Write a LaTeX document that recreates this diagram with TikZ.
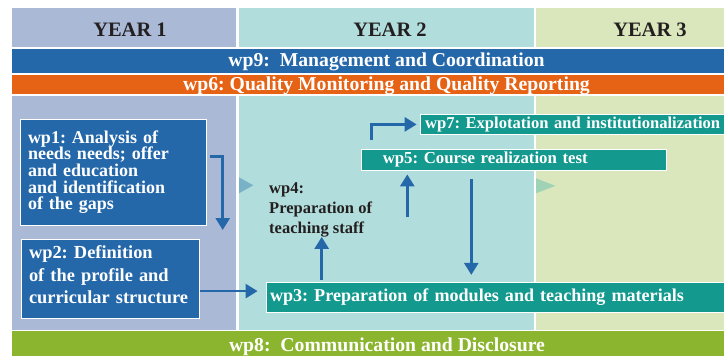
\documentclass[tikz,border=0pt]{standalone}
\usepackage{fontspec}
\setmainfont{Liberation Serif}
\usetikzlibrary{arrows.meta, calc}
\frenchspacing

\definecolor{jahreins}{HTML}{AAB9D6}
\definecolor{jahrzwei}{HTML}{B1DEDC}
\definecolor{jahrdrei}{HTML}{DAE6BC}
\definecolor{blau}{HTML}{2468AA}
\definecolor{orange}{HTML}{E66315}
\definecolor{gruen}{HTML}{8CB52F}
\definecolor{tuerkis}{HTML}{13998E}
\definecolor{kopf}{HTML}{231F20}
\definecolor{dreieckeins}{HTML}{79B1C7}
\definecolor{dreieckzwei}{HTML}{A0D2B6}

\begin{document}
\begin{tikzpicture}[x=1pt,y=-1pt,
	pfeil/.style={draw=blau, line width=2.7pt, -{Triangle[width=14pt,length=12pt]}},
	wpbox/.style={draw=white, line width=0.8pt, text=white, align=left},
	balken/.style={anchor=base, inner sep=0pt, text=white, font=\bfseries\fontsize{19.7}{20}\selectfont},
	jahr/.style={anchor=base, inner sep=0pt, text=kopf, font=\bfseries\fontsize{20.5}{21}\selectfont}]
		\useasboundingbox (0,0) rectangle (724,356);
		
		% Jahre
		\fill[jahreins] (12,8) rectangle (236,329.5);
		\fill[jahrzwei] (238.5,8) rectangle (533.5,329.5);
		\fill[jahrdrei] (535.5,8) rectangle (724,329.5);
		\node[jahr] (j1) at (130,36) {YEAR 1};
		\node[jahr] (j2) at (390,36) {YEAR 2};
		\node[jahr] (j3) at (650,36) {YEAR 3};
		
		% Balken
		\fill[white] (12,46.7) rectangle (724,96);
		\fill[blau] (12,48.7) rectangle (724,72.7);
		\fill[orange] (12,74.7) rectangle (724,94);
		\fill[gruen] (12,331.3) rectangle (724,356);
		\node[balken] (wp9) at (386.5,66.7) {wp9:\ \ Management and Coordination};
		\node[balken] (wp6) at (386.5,90.7) {wp6: Quality Monitoring and Quality Reporting};
		\node[balken] (wp8) at (387,351.7) {wp8:\ \ Communication and Disclosure};
		
		% Dreiecke
		\fill[dreieckeins] (239,177.3) -- (253.3,185.3) -- (239,193.3) -- cycle;
		\fill[dreieckzwei] (536,178.3) -- (555.3,185.8) -- (536,193.3) -- cycle;
		
		% Arbeitspakete
		\node[wpbox, fill=blau, inner xsep=8pt, text width=170pt, minimum height=105.7pt, font=\bfseries\fontsize{18}{16.7}\selectfont] (wp1) at (113,172.2) {wp1: Analysis of\\needs needs; offer\\and education\\and identification\\of the gaps};
		\node[wpbox, fill=blau, inner xsep=8pt, text width=162pt, minimum height=78.7pt, font=\bfseries\fontsize{18.4}{22.3}\selectfont] (wp2) at (110,278.7) {wp2: Definition\\of the profile and\\curricular structure\par\vspace{8pt}};
		\node[wpbox, fill=tuerkis, inner xsep=4pt, inner ysep=0pt, text width=466pt, minimum height=30.4pt, font=\bfseries\fontsize{18.1}{20}\selectfont] (wp3) at (503,297.5) {wp3: Preparation of modules and teaching materials};
		\node[wpbox, fill=tuerkis, inner xsep=21.7pt, inner ysep=0pt, text width=262.3pt, minimum height=21.2pt, font=\bfseries\fontsize{16.8}{18}\selectfont] (wp5) at (513.9,159.9) {wp5: Course realization test};
		\node[wpbox, fill=tuerkis, inner xsep=4.3pt, inner ysep=0pt, text width=310.7pt, minimum height=20.7pt, font=\bfseries\fontsize{16.6}{18}\selectfont] (wp7) at (580.4,124.4) {wp7: Explotation and institutionalization};
		\node[anchor=north west, inner sep=0pt, align=left, text=kopf, font=\bfseries\fontsize{16.5}{20}\selectfont] (wp4) at (269,182) {wp4:\\Preparation of\\teaching staff};
		
		% Pfeile
		\coordinate (e1) at (222.7,230);
		\coordinate (a2) at ([shift={(1,12.4)}]wp2.east);
		\coordinate (a3) at (321.7,0);
		\coordinate (a4) at (407.3,216.7);
		\coordinate (a6) at (471.3,0);
		\draw[pfeil] ([shift={(4,-15.4)}]wp1.east) -| (e1);
		\draw[pfeil, shorten >=8pt] (a2) -- (a2 -| wp3.west);
		\draw[pfeil, shorten <=2.3pt] (wp3.north -| a3) -- (wp4.south -| a3);
		\draw[pfeil, shorten >=3.5pt] (a4) -- (a4 |- wp5.south);
		\draw[pfeil, shorten >=3.7pt] ([shift={(11,-8.6)}]wp5.north west) |- (wp7.west);
		\draw[pfeil, shorten <=8pt, shorten >=7pt] (wp5.south -| a6) -- (wp3.north -| a6);
	\end{tikzpicture}
\end{document}
